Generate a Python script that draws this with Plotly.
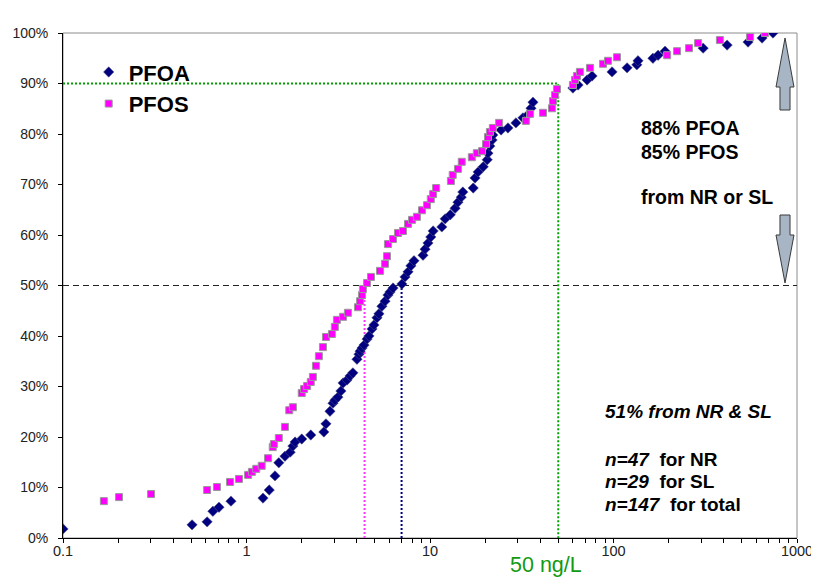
import plotly.graph_objects as go

# ---------------- data (concentration ng/L, cumulative %) ----------------
pfoa_conc = [0.1, 0.505, 0.61, 0.656, 0.708, 0.823, 1.23, 1.33, 1.43, 1.50,
             1.62, 1.73, 1.79, 1.84, 2.00, 2.24, 2.64, 2.71, 2.85, 2.96,
             3.03, 3.15, 3.27, 3.36, 3.53, 3.67, 3.80, 4.00, 4.10, 4.16,
             4.26, 4.37, 4.54, 4.65, 4.83, 4.95, 5.14, 5.27, 5.47, 5.69,
             5.90, 6.05, 6.29, 7.03, 7.31, 7.59, 7.87, 8.18, 9.16, 9.40,
             9.75, 10.1, 10.4, 11.6, 12.1, 12.9, 13.7, 14.2, 14.8, 15.1,
             17.2, 17.6, 18.3, 19.5, 20.5, 20.7, 21.2, 21.8, 22.0, 24.4,
             26.6, 29.4, 32.1, 34.2, 35.5, 36.4, 60.1, 64.1, 71.8, 76.4,
             98.2, 118.6, 134, 136, 164, 175, 191, 308, 416, 541,
             645, 740]
pfoa_pct = [1.8, 2.6, 3.2, 5.3, 6.1, 7.3, 7.9, 9.5, 12.3, 14.9,
            16.2, 17.0, 18.2, 19.0, 19.6, 20.4, 21.0, 22.6, 25.1, 26.7,
            27.3, 27.9, 29.1, 30.7, 31.3, 32.1, 32.7, 35.4, 36.4, 37.0,
            37.6, 38.2, 39.4, 40.0, 41.4, 42.2, 43.6, 44.4, 45.9, 46.9,
            48.1, 48.7, 49.5, 50.3, 51.7, 52.7, 53.9, 54.9, 56.0, 57.2,
            58.4, 59.6, 60.8, 61.6, 63.2, 64.0, 65.3, 66.5, 67.5, 68.5,
            69.3, 71.3, 72.5, 73.5, 74.9, 76.2, 77.6, 78.8, 79.8, 80.8,
            81.2, 82.2, 83.2, 83.8, 85.1, 86.3, 89.1, 89.7, 90.7, 91.5,
            92.3, 93.1, 93.7, 94.5, 95.0, 95.6, 96.4, 97.0, 97.6, 98.2,
            99.0, 100.0]

pfos_conc = [0.167, 0.202, 0.302, 0.61, 0.69, 0.813, 0.91, 1.02, 1.07, 1.13,
             1.21, 1.31, 1.39, 1.41, 1.50, 1.62, 1.71, 1.79, 2.00, 2.06,
             2.14, 2.24, 2.30, 2.39, 2.48, 2.61, 2.71, 2.92, 3.03, 3.11,
             3.36, 3.57, 4.05, 4.16, 4.26, 4.31, 4.54, 4.77, 5.34, 5.69,
             5.83, 5.90, 6.29, 6.69, 7.13, 7.59, 7.98, 8.49, 9.04, 9.63,
             10.1, 10.4, 10.8, 13.0, 13.3, 14.2, 14.9, 16.9, 18.0, 19.2,
             20.2, 20.7, 21.2, 22.0, 23.8, 33.3, 35.1, 41.3, 46.2, 46.8,
             48.0, 49.2, 60.1, 61.7, 63.2, 65.6, 74.5, 87.7, 93.3, 104.5,
             196, 222, 258, 289, 380, 555, 670]
pfos_pct = [7.3, 8.1, 8.7, 9.5, 10.1, 11.1, 11.7, 12.5, 13.1, 13.7,
            14.3, 15.8, 18.0, 18.6, 19.8, 22.0, 25.3, 25.9, 28.7, 29.5,
            30.1, 30.9, 31.9, 34.1, 36.0, 37.8, 39.8, 40.4, 41.8, 43.2,
            43.8, 44.6, 45.7, 46.9, 48.1, 49.3, 50.5, 51.7, 52.9, 54.3,
            55.8, 58.2, 59.2, 60.4, 60.8, 62.2, 63.0, 63.6, 64.9, 65.9,
            67.1, 68.1, 69.3, 70.7, 71.9, 73.1, 74.5, 75.4, 76.2, 76.6,
            78.0, 79.4, 80.4, 81.2, 82.2, 82.6, 84.0, 84.2, 85.1, 86.5,
            87.7, 88.9, 89.7, 90.7, 91.5, 92.3, 93.1, 93.9, 94.5, 95.2,
            95.6, 96.4, 97.0, 98.0, 98.6, 99.2, 100.0]

pfos_median = 4.4
pfoa_median = 7.0
threshold = 50
threshold_pct = 90

x_tick_vals = [0.1, 1, 10, 100, 1000]
x_tick_text = ["0.1", "1", "10", "100", "1000"]

FONT = "Liberation Sans, Arial, sans-serif"

fig = go.Figure()

# reference lines
fig.add_trace(go.Scatter(x=[0.1, 1000], y=[50, 50], mode="lines",
                         line=dict(color="#222222", width=1, dash="6px,4px"),
                         showlegend=False, hoverinfo="skip"))
fig.add_trace(go.Scatter(x=[0.1, threshold, threshold], y=[threshold_pct, threshold_pct, 0],
                         mode="lines", line=dict(color="#00a000", width=2, dash="2px,2px"),
                         showlegend=False, hoverinfo="skip"))
fig.add_trace(go.Scatter(x=[pfos_median, pfos_median], y=[0, 50], mode="lines",
                         line=dict(color="#ff33ff", width=2, dash="2px,2px"),
                         showlegend=False, hoverinfo="skip"))
fig.add_trace(go.Scatter(x=[pfoa_median, pfoa_median], y=[0, 50], mode="lines",
                         line=dict(color="#000080", width=2, dash="2px,2px"),
                         showlegend=False, hoverinfo="skip"))

# data
fig.add_trace(go.Scatter(x=pfoa_conc, y=pfoa_pct, mode="markers", name="<b>PFOA</b>",
                         marker=dict(symbol="diamond", size=8, color="#000080",
                                     line=dict(color="#55557a", width=0.5))))
fig.add_trace(go.Scatter(x=pfos_conc, y=pfos_pct, mode="markers", name="<b>PFOS</b>",
                         marker=dict(symbol="square", size=7, color="#ff00ff",
                                     line=dict(color="#9a9a9a", width=1))))

minor_vals = []
for dec in [0.1, 1, 10, 100]:
    for k in range(1, 10):
        minor_vals.append(dec * k)
minor_vals.append(1000)
minor_text = [x_tick_text[x_tick_vals.index(v)] if v in x_tick_vals else "" for v in minor_vals]

fig.update_xaxes(type="log", range=[-1, 3], tickvals=minor_vals, ticktext=minor_text,
                 ticks="outside", ticklen=4, tickcolor="#000", showline=True,
                 linecolor="#000", linewidth=1, showgrid=False, zeroline=False,
                 ticklabelstandoff=-4, automargin=False,
                 tickfont=dict(family=FONT, size=14.5, color="#222"))
fig.update_yaxes(range=[0, 100], dtick=10, ticksuffix="%", ticks="outside", ticklen=4,
                 tickcolor="#000", showline=True, linecolor="#000", linewidth=1,
                 showgrid=False, zeroline=False, ticklabelstandoff=7, automargin=False,
                 tickfont=dict(family=FONT, size=14, color="#222"))

def px2paper(px):
    return (px - 63) / 734.0

def py2data(py):
    return (538 - py) / 5.05

# border (top/right gray)
shapes = [dict(type="rect", xref="paper", yref="paper", x0=0, x1=1, y0=0, y1=1,
               line=dict(color="#8c8c8c", width=1), layer="below")]

up = [(785, 38), (794, 87), (790, 87), (790, 110), (780, 110), (780, 87), (776, 87)]
down = [(780, 215), (790, 215), (790, 235), (794, 235), (785, 283), (776, 235), (780, 235)]
for poly in (up, down):
    path = "M " + " L ".join(f"{px2paper(a):.4f},{py2data(b):.3f}" for a, b in poly) + " Z"
    shapes.append(dict(type="path", xref="paper", yref="y", path=path,
                       fillcolor="#a7b5c5", line=dict(color="#3a3a3a", width=1)))

annotations = []
def note(text, px, py, size, color="#000"):
    annotations.append(dict(text=text, xref="paper", yref="y", x=px2paper(px), y=py2data(py),
                            xanchor="left", yanchor="middle", showarrow=False,
                            font=dict(family=FONT, size=size, color=color)))

note("<b>88% PFOA</b>", 639, 128, 19.5)
note("<b>85% PFOS</b>", 639, 152, 19.5)
note("<b>from NR or SL</b>", 639, 197, 19.5)
note("<b><i>51% from NR &amp; SL</i></b>", 603, 411, 19)
note("<b><i>n=47</i>\u00a0\u00a0for NR</b>", 603, 459, 19)
note("<b><i>n=29</i>\u00a0\u00a0for SL</b>", 603, 481, 19)
note("<b><i>n=147</i>\u00a0\u00a0for total</b>", 603, 504, 19)

annotations.append(dict(text="50 ng/L", xref="paper", yref="paper", x=px2paper(546),
                        y=-0.053, xanchor="center", yanchor="middle", showarrow=False,
                        font=dict(family=FONT, size=21.5, color="#129a12")))

# page body has an 8px margin: shrink figure so plot area lands at the reference spot
fig.update_layout(width=811, height=569, margin=dict(l=55, r=22, t=25, b=39, autoexpand=False),
                  plot_bgcolor="white", paper_bgcolor="white",
                  shapes=shapes, annotations=annotations,
                  legend=dict(x=0.035, y=0.964, xanchor="left", yanchor="top",
                              bgcolor="rgba(0,0,0,0)", itemwidth=30,
                              font=dict(family=FONT, size=22, color="#000"),
                              tracegroupgap=0),
                  font=dict(family=FONT))

fig.write_html("out.html")
